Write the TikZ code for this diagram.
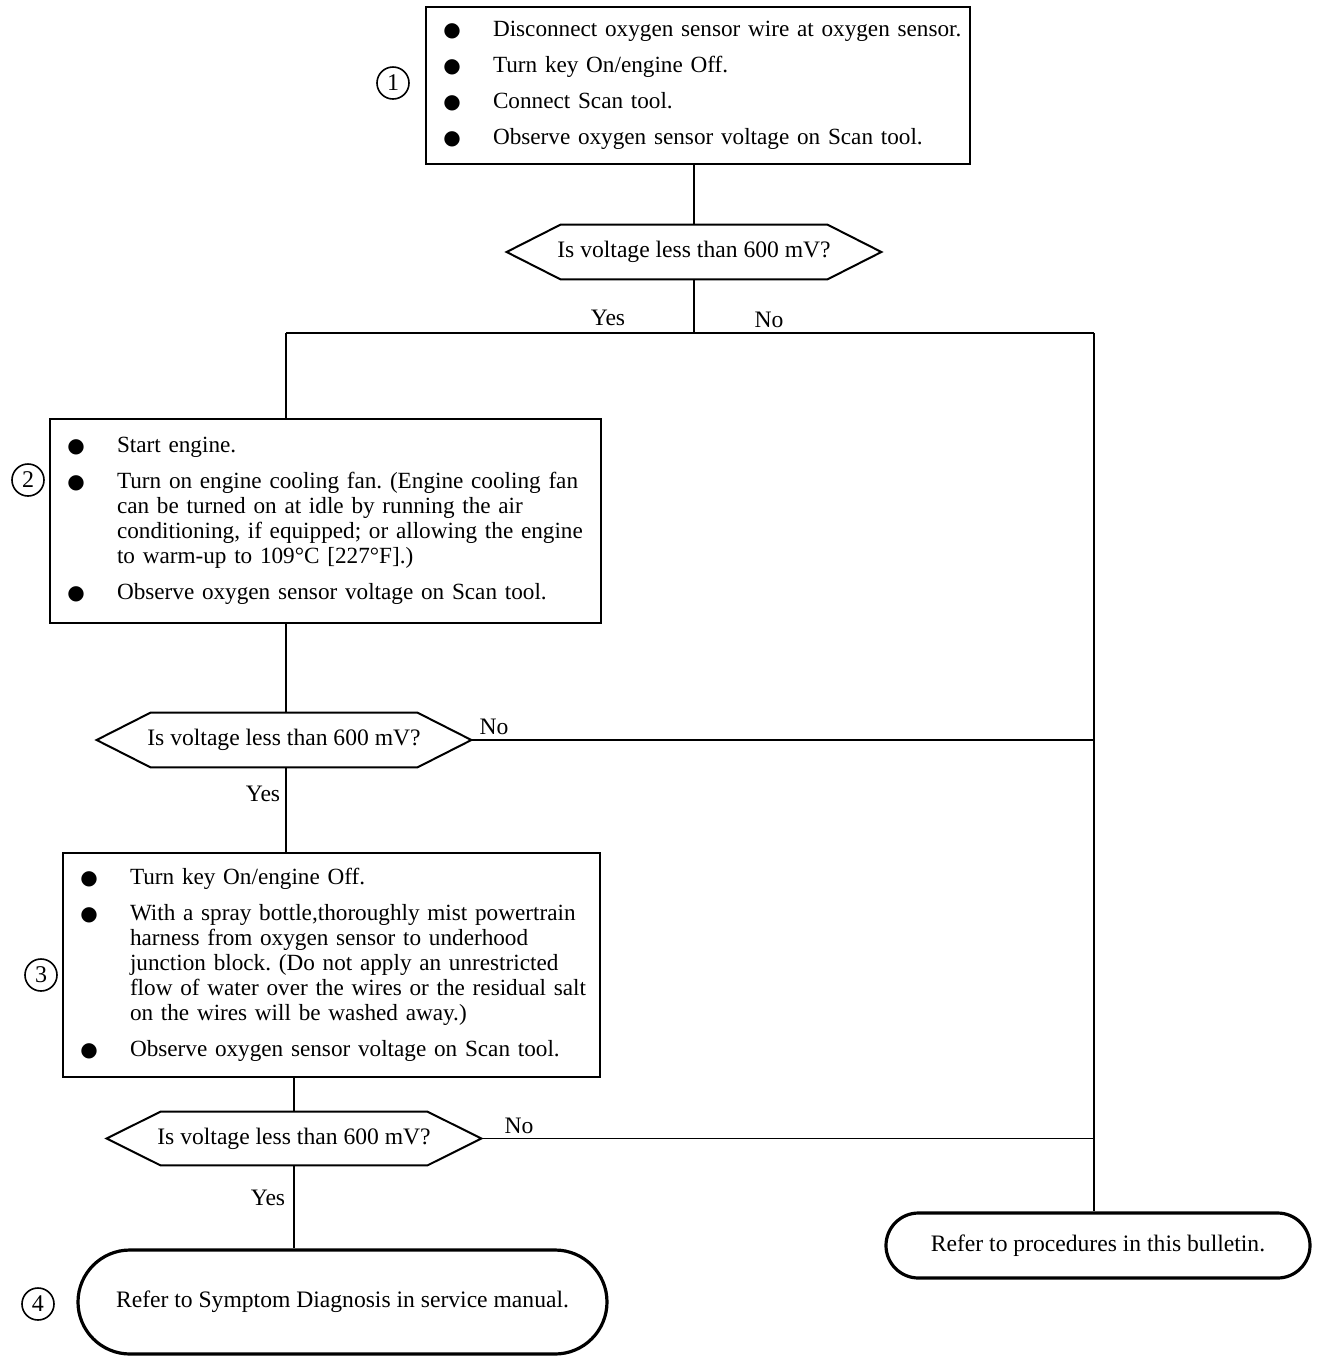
\documentclass[tikz,border=0pt]{standalone}
\usepackage{fontspec}
\setmainfont{Liberation Serif}
\newfontfamily\symfont{DejaVu Sans}
\usepackage{array}
\usetikzlibrary{shapes.misc}
\frenchspacing
\newcommand\bul{{\symfont\fontsize{10}{10}\selectfont ●}}
\newcolumntype{B}{@{}>{\centering\arraybackslash}p{26pt}@{\hspace{7.5pt}}l@{}}
\begin{document}
\begin{tikzpicture}[x=0.5pt,y=-0.5pt,
  every node/.style={font=\fontsize{11.8}{12.5}\selectfont},
  stepbox/.style={draw, line width=1pt, rectangle, inner xsep=0pt, inner ysep=0pt, align=left, font=\fontsize{11.6}{12.5}\selectfont},
  decision/.style={rectangle, inner sep=0pt, minimum height=27pt, minimum width=187pt},
  hexline/.style={line width=1pt, line join=miter},
  oval/.style={draw, line width=1.6pt, rounded rectangle, inner sep=0pt},
  num/.style={circle, draw, line width=0.8pt, minimum size=16pt, inner sep=0pt, font=\fontsize{12}{12}\selectfont},
  lbl/.style={inner sep=1pt},
  conn/.style={line width=0.8pt}]
\useasboundingbox (0,0) rectangle (1328,1362);

% step 1
\node[stepbox, text width=272pt, minimum height=78.5pt] (box1) at (698,85.5) {\noindent\begin{tabular}{B}
\bul & Disconnect oxygen sensor wire at oxygen sensor.\\[5.5pt]
\bul & Turn key On/engine Off.\\[5.5pt]
\bul & Connect Scan tool.\\[5.5pt]
\bul & Observe oxygen sensor voltage on Scan tool.
\end{tabular}};
\node[num] (c1) at (393,83) {1};

\node[decision] (dec1) at (694,252) {Is voltage less than 600 mV?};

% step 2
\node[stepbox, text width=275.5pt, minimum height=102pt] (box2) at (325.5,521) {\noindent\begin{tabular}{B}
\bul & Start engine.\\[5.5pt]
\bul & Turn on engine cooling fan. (Engine cooling fan\\
 & can be turned on at idle by running the air\\
 & conditioning, if equipped; or allowing the engine\\
 & to warm-up to 109°C [227°F].)\\[5.5pt]
\bul & Observe oxygen sensor voltage on Scan tool.
\end{tabular}};
\node[num] (c2) at (28,480) {2};

\node[decision] (dec2) at (284,740) {Is voltage less than 600 mV?};

% step 3
\node[stepbox, text width=268.5pt, minimum height=112pt] (box3) at (331.5,965) {\noindent\begin{tabular}{B}
\bul & Turn key On/engine Off.\\[5.5pt]
\bul & With a spray bottle,thoroughly mist powertrain\\
 & harness from oxygen sensor to underhood\\
 & junction block. (Do not apply an unrestricted\\
 & flow of water over the wires or the residual salt\\
 & on the wires will be washed away.)\\[5.5pt]
\bul & Observe oxygen sensor voltage on Scan tool.
\end{tabular}};
\node[num] (c3) at (41,975) {3};

\node[decision, minimum height=26.5pt] (dec3) at (294,1138.5) {Is voltage less than 600 mV?};

% ends
\node[oval, minimum width=264.5pt, minimum height=52pt] (oval1) at (342.5,1302) {Refer to Symptom Diagnosis in service manual.};
\node[num] (c4) at (38,1304) {4};
\node[oval, minimum width=212pt, minimum height=32.5pt] (oval2) at (1098,1245.5) {Refer to procedures in this bulletin.};

% hexagons
\foreach \n in {dec1,dec2,dec3}
  \draw[hexline] (\n.west) -- ([xshift=27pt]\n.north west) -- ([xshift=-27pt]\n.north east)
    -- (\n.east) -- ([xshift=-27pt]\n.south east) -- ([xshift=27pt]\n.south west) -- cycle;

% junctions
\coordinate (jl) at (286,333);
\coordinate (jr) at (1094,333);

% connectors
\draw[conn] (box1.south -| dec1.north) -- (dec1.north);
\draw[conn] (dec1.south) -- (dec1.south |- jl);
\draw[conn] (jl) -- (jr);
\draw[conn] (jl) -- (jl |- box2.north);
\draw[conn] (jr) -- (jr |- oval2.north);
\draw[conn] (box2.south -| jl) -- (dec2.north -| jl);
\draw[conn] (dec2.east) -- (dec2.east -| jr);
\draw[conn] (dec2.south -| jl) -- (box3.north -| jl);
\draw[conn] (box3.south -| dec3.north) -- (dec3.north);
\draw[conn] (dec3.east) -- (dec3.east -| jr);
\draw[conn] (dec3.south) -- (dec3.south |- oval1.north);

% labels
\node[lbl] (y1) at (608,318) {Yes};
\node[lbl] (n1) at (769,320) {No};
\node[lbl] (n2) at (494,727) {No};
\node[lbl] (y2) at (263,794) {Yes};
\node[lbl] (n3) at (519,1126) {No};
\node[lbl] (y3) at (268,1198) {Yes};
\end{tikzpicture}
\end{document}
